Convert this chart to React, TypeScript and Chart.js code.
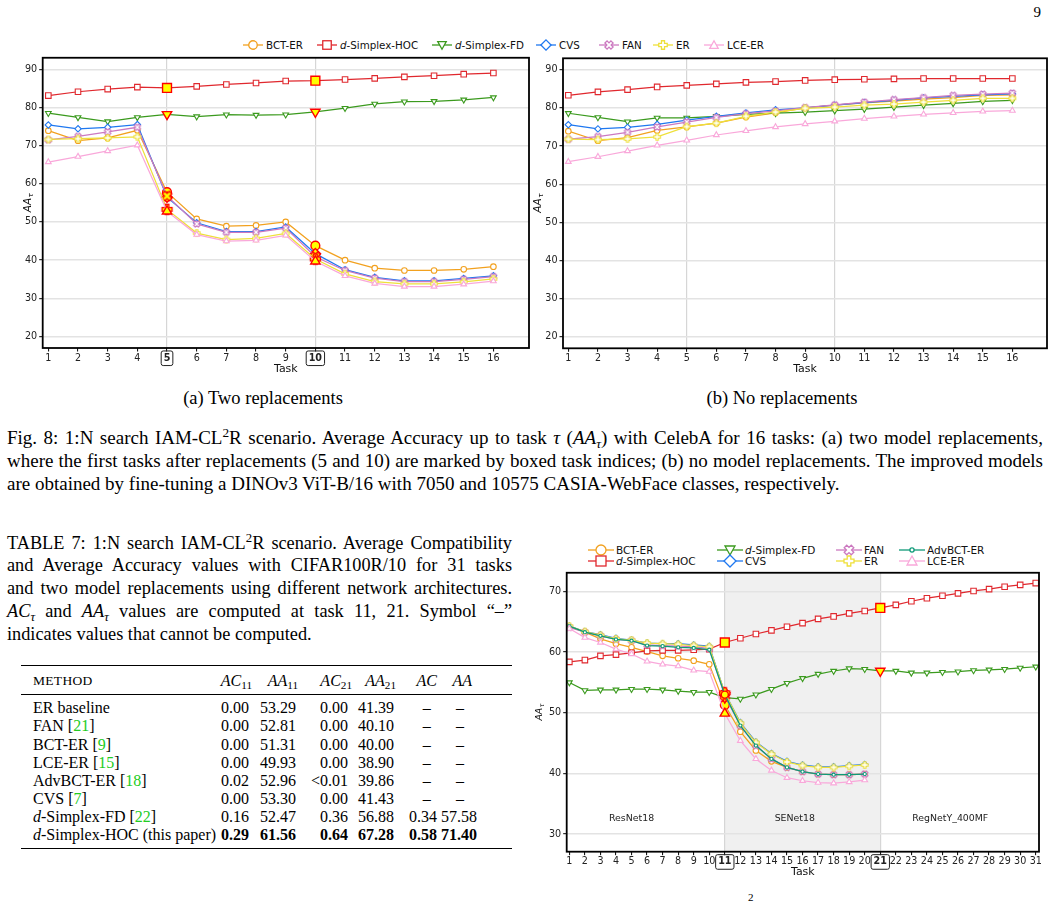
import React, { useEffect, useRef } from 'react';
import { Chart, registerables } from 'chart.js';

Chart.register(...registerables);

const SANS = "'DejaVu Sans', Verdana, sans-serif";
const SERIF = "'Liberation Serif', 'Times New Roman', Times, serif";

// ---------------- colours ----------------
const C_BCT = '#F2A11F';
const C_HOC = '#E0282E';
const C_FD = '#3B9A1E';
const C_CVS = '#1F78F0';
const C_FAN = '#CC79C0';
const C_ER = '#EEE03A';
const C_LCE = '#F9A8DA';
const C_ADV = '#0E9A78';

// ---------------- Fig. 8 (CelebA, 16 tasks) ----------------
const tasks16 = [1, 2, 3, 4, 5, 6, 7, 8, 9, 10, 11, 12, 13, 14, 15, 16];
const yTicks16 = [20, 30, 40, 50, 60, 70, 80, 90];
const replacementTasks16 = [5, 10];

// (a) two replacements
const twoRepBCT = [73.9, 71.3, 72.0, 74.0, 57.8, 50.8, 48.9, 49.1, 50.0, 43.8, 40.0, 37.9, 37.3, 37.3, 37.6, 38.3];
const twoRepHOC = [83.1, 84.1, 84.8, 85.3, 85.1, 85.5, 86.0, 86.4, 86.9, 87.0, 87.3, 87.6, 88.0, 88.3, 88.7, 89.0];
const twoRepFD = [78.5, 77.4, 76.3, 77.4, 78.2, 77.6, 78.1, 78.0, 78.1, 78.8, 79.8, 80.9, 81.5, 81.6, 82.0, 82.6];
const twoRepCVS = [75.4, 74.4, 74.8, 75.5, 56.5, 49.8, 47.5, 47.5, 48.7, 41.7, 37.5, 35.5, 34.6, 34.6, 35.2, 35.9];
const twoRepFAN = [71.5, 72.4, 73.6, 74.8, 56.8, 49.5, 47.3, 47.3, 48.4, 40.9, 37.3, 35.3, 34.4, 34.4, 35.0, 35.7];
const twoRepER = [71.6, 71.8, 72.0, 72.3, 53.3, 47.1, 45.4, 45.7, 47.0, 40.3, 36.4, 34.4, 33.8, 33.8, 34.3, 35.1];
const twoRepLCE = [65.7, 67.1, 68.6, 70.1, 52.8, 46.7, 45.0, 45.2, 46.5, 39.7, 35.9, 33.9, 33.1, 33.1, 33.7, 34.5];

// (b) no replacements
const noRepBCT = [73.9, 71.4, 72.2, 74.1, 75.0, 76.0, 77.6, 78.7, 80.0, 80.7, 81.3, 81.8, 82.3, 82.7, 83.3, 83.4];
const noRepHOC = [83.3, 84.2, 84.8, 85.5, 85.9, 86.3, 86.7, 86.9, 87.2, 87.4, 87.5, 87.6, 87.7, 87.7, 87.7, 87.7];
const noRepFD = [78.6, 77.5, 76.4, 77.4, 77.4, 77.8, 78.3, 78.6, 78.9, 79.3, 79.7, 80.2, 80.7, 81.2, 81.7, 82.0];
const noRepCVS = [75.6, 74.5, 74.9, 75.7, 76.8, 77.8, 78.7, 79.5, 80.0, 80.7, 81.4, 82.0, 82.6, 83.0, 83.4, 83.7];
const noRepFAN = [71.8, 72.5, 73.6, 75.0, 76.3, 77.5, 78.5, 79.2, 80.1, 80.8, 81.5, 82.2, 82.7, 83.3, 83.6, 83.9];
const noRepER = [71.8, 71.7, 71.9, 72.4, 75.1, 76.0, 77.8, 78.9, 79.9, 80.2, 80.7, 81.0, 81.5, 82.0, 82.5, 82.5];
const noRepLCE = [65.9, 67.2, 68.7, 70.2, 71.5, 72.9, 74.0, 75.0, 75.8, 76.5, 77.2, 77.8, 78.3, 78.7, 79.1, 79.3];

// ---------------- CIFAR100R/10, 31 tasks ----------------
const tasks31 = [1, 2, 3, 4, 5, 6, 7, 8, 9, 10, 11, 12, 13, 14, 15, 16, 17, 18, 19, 20, 21, 22, 23, 24, 25, 26, 27, 28, 29, 30, 31];
const yTicks31 = [30, 40, 50, 60, 70];
const replacementTasks31 = [11, 21];
const archPhaseNames = ['ResNet18', 'SENet18', 'RegNetY_400MF'];
const archPhaseCenters = [5, 15.5, 25.5];
const archPhaseLabelY = 32.6;

const archBCT = [64.2, 63.3, 62.2, 61.4, 60.8, 60.1, 59.4, 59.0, 58.6, 58.0, 51.3, 46.9, 43.8, 42.0, 41.0, 40.3, 39.9, 39.8, 39.8, 39.9];
const archHOC = [58.4, 58.7, 59.4, 59.6, 59.9, 60.2, 60.3, 60.3, 60.4, 60.5, 61.6, 62.3, 63.0, 63.6, 64.2, 64.8, 65.5, 65.9, 66.4, 66.8, 67.3, 67.8, 68.4, 68.9, 69.3, 69.7, 70.1, 70.4, 70.8, 71.1, 71.4];
const archFD = [55.0, 53.7, 53.8, 53.8, 53.9, 53.9, 53.8, 53.6, 53.4, 53.4, 52.5, 52.3, 53.0, 53.9, 54.9, 55.7, 56.4, 56.9, 57.3, 57.2, 56.9, 56.9, 56.6, 56.6, 56.7, 56.8, 57.0, 57.1, 57.2, 57.4, 57.6];
const archCVS = [64.3, 63.4, 62.9, 62.3, 62.0, 61.5, 61.4, 61.4, 61.2, 61.0, 53.3, 48.4, 45.2, 43.3, 42.0, 41.4, 41.1, 41.1, 41.3, 41.5];
const archFAN = [64.1, 63.3, 62.7, 62.1, 61.9, 61.2, 61.1, 61.0, 60.9, 60.6, 52.8, 47.9, 44.6, 42.4, 41.0, 40.3, 39.9, 39.8, 39.8, 39.9];
const archER = [64.3, 63.4, 62.8, 62.2, 62.0, 61.5, 61.4, 61.3, 61.1, 60.9, 53.3, 48.3, 45.1, 43.2, 41.9, 41.3, 41.0, 41.0, 41.2, 41.4];
const archADV = [64.3, 63.3, 62.7, 62.1, 61.9, 61.1, 61.0, 60.8, 60.7, 60.4, 53.0, 47.9, 44.6, 42.4, 41.0, 40.3, 39.9, 39.8, 39.8, 39.9];
const archLCE = [63.9, 62.4, 61.6, 60.5, 59.7, 58.5, 58.0, 57.7, 57.0, 56.8, 49.9, 45.4, 42.4, 40.5, 39.3, 38.8, 38.5, 38.4, 38.6, 38.9];

// ---------------- Table 7 ----------------
const tableMethods = ['ER baseline', 'FAN', 'BCT-ER', 'LCE-ER', 'AdvBCT-ER', 'CVS', 'd-Simplex-FD', 'd-Simplex-HOC'];
const tableRefs = ['', '21', '9', '15', '18', '7', '22', ''];
const tableAC11 = ['0.00', '0.00', '0.00', '0.00', '0.02', '0.00', '0.16', '0.29'];
const tableAA11 = ['53.29', '52.81', '51.31', '49.93', '52.96', '53.30', '52.47', '61.56'];
const tableAC21 = ['0.00', '0.00', '0.00', '0.00', '<0.01', '0.00', '0.36', '0.64'];
const tableAA21 = ['41.39', '40.10', '40.00', '38.90', '39.86', '41.43', '56.88', '67.28'];
const tableAC = ['–', '–', '–', '–', '–', '–', '0.34', '0.58'];
const tableAA = ['–', '–', '–', '–', '–', '–', '57.58', '71.40'];

// ---------------- series definitions ----------------
type Shape = 'circle' | 'square' | 'triDown' | 'triUp' | 'diamond' | 'x' | 'plus' | 'dot';
type Series = { name: string; values: number[]; color: string; shape: Shape };

const seriesTwoRep: Series[] = [
  { name: 'BCT-ER', values: twoRepBCT, color: C_BCT, shape: 'circle' },
  { name: 'd-Simplex-HOC', values: twoRepHOC, color: C_HOC, shape: 'square' },
  { name: 'd-Simplex-FD', values: twoRepFD, color: C_FD, shape: 'triDown' },
  { name: 'CVS', values: twoRepCVS, color: C_CVS, shape: 'diamond' },
  { name: 'FAN', values: twoRepFAN, color: C_FAN, shape: 'x' },
  { name: 'ER', values: twoRepER, color: C_ER, shape: 'plus' },
  { name: 'LCE-ER', values: twoRepLCE, color: C_LCE, shape: 'triUp' },
];
const seriesNoRep: Series[] = [
  { name: 'BCT-ER', values: noRepBCT, color: C_BCT, shape: 'circle' },
  { name: 'd-Simplex-HOC', values: noRepHOC, color: C_HOC, shape: 'square' },
  { name: 'd-Simplex-FD', values: noRepFD, color: C_FD, shape: 'triDown' },
  { name: 'CVS', values: noRepCVS, color: C_CVS, shape: 'diamond' },
  { name: 'FAN', values: noRepFAN, color: C_FAN, shape: 'x' },
  { name: 'ER', values: noRepER, color: C_ER, shape: 'plus' },
  { name: 'LCE-ER', values: noRepLCE, color: C_LCE, shape: 'triUp' },
];
const seriesArch: Series[] = [
  { name: 'BCT-ER', values: archBCT, color: C_BCT, shape: 'circle' },
  { name: 'd-Simplex-HOC', values: archHOC, color: C_HOC, shape: 'square' },
  { name: 'd-Simplex-FD', values: archFD, color: C_FD, shape: 'triDown' },
  { name: 'CVS', values: archCVS, color: C_CVS, shape: 'diamond' },
  { name: 'FAN', values: archFAN, color: C_FAN, shape: 'x' },
  { name: 'ER', values: archER, color: C_ER, shape: 'plus' },
  { name: 'AdvBCT-ER', values: archADV, color: C_ADV, shape: 'dot' },
  { name: 'LCE-ER', values: archLCE, color: C_LCE, shape: 'triUp' },
];

// ---------------- marker helpers ----------------
const HL_FILL = '#FFFF00';
const HL_EDGE = '#FF0000';
const R_NORMAL: Record<string, number> = { circle: 2.8, square: 3.9, triDown: 3.3, triUp: 3.3, diamond: 3.2, x: 4, plus: 4, dot: 1.6 };
const R_BIG: Record<string, number> = { circle: 4.4, square: 6.3, triDown: 5.4, triUp: 5.4, diamond: 5.2, x: 6, plus: 6, dot: 3.5 };

const crossCache: Record<string, HTMLCanvasElement> = {};
function crossCanvas(shape: string, size: number, fill: string, stroke: string, lw: number) {
  const key = [shape, size, fill, stroke, lw].join('|');
  if (crossCache[key]) return crossCache[key];
  const dim = Math.ceil(size * 1.15 + lw * 2 + 2);
  const c = document.createElement('canvas');
  c.width = dim;
  c.height = dim;
  const g = c.getContext('2d') as CanvasRenderingContext2D;
  g.translate(dim / 2, dim / 2);
  if (shape === 'x') g.rotate(Math.PI / 4);
  const a = size / 2;
  const t = size * 0.18;
  const pts = [[-t, -a], [t, -a], [t, -t], [a, -t], [a, t], [t, t], [t, a], [-t, a], [-t, t], [-a, t], [-a, -t], [-t, -t]];
  g.beginPath();
  pts.forEach(([px, py], i) => (i ? g.lineTo(px, py) : g.moveTo(px, py)));
  g.closePath();
  g.fillStyle = fill;
  g.fill();
  g.lineWidth = lw;
  g.strokeStyle = stroke;
  g.stroke();
  crossCache[key] = c;
  return c;
}

function pointStyleFor(shape: Shape, hl: boolean, color: string): any {
  switch (shape) {
    case 'square':
      return 'rect';
    case 'triDown':
    case 'triUp':
      return 'triangle';
    case 'diamond':
      return 'rectRot';
    case 'x':
    case 'plus':
      return crossCanvas(shape, hl ? 10 : 6.6, hl ? HL_FILL : '#FFFFFF', hl ? HL_EDGE : color, hl ? 1.3 : 1.1);
    default:
      return 'circle';
  }
}

// ---------------- plugins ----------------
function roundRectPath(ctx: CanvasRenderingContext2D, x: number, y: number, w: number, h: number, r: number) {
  ctx.beginPath();
  ctx.moveTo(x + r, y);
  ctx.lineTo(x + w - r, y);
  ctx.arcTo(x + w, y, x + w, y + r, r);
  ctx.lineTo(x + w, y + h - r);
  ctx.arcTo(x + w, y + h, x + w - r, y + h, r);
  ctx.lineTo(x + r, y + h);
  ctx.arcTo(x, y + h, x, y + h - r, r);
  ctx.lineTo(x, y + r);
  ctx.arcTo(x, y, x + r, y, r);
  ctx.closePath();
}

const framePlugin = {
  id: 'frame',
  afterDatasetsDraw(chart: any) {
    const { ctx, chartArea: a } = chart;
    ctx.save();
    ctx.strokeStyle = '#000';
    ctx.lineWidth = 1.8;
    ctx.strokeRect(a.left, a.top, a.right - a.left, a.bottom - a.top);
    ctx.restore();
  },
};

function boxedTicksPlugin(values: number[], fontSize: number) {
  return {
    id: 'boxedTicks',
    afterDraw(chart: any) {
      const xs = chart.scales.x;
      const ctx = chart.ctx;
      const tl = xs.options.grid.tickLength;
      const pad = xs.options.ticks.padding;
      const cy = xs.top + tl + pad + (fontSize * 1.2) / 2;
      ctx.save();
      ctx.font = `bold ${fontSize}px ${SANS}`;
      values.forEach((v) => {
        const cx = xs.getPixelForValue(v);
        const w = ctx.measureText(String(v)).width + 5;
        const h = fontSize + 5;
        roundRectPath(ctx, cx - w / 2, cy - h / 2, w, h, 2);
        ctx.strokeStyle = '#222';
        ctx.lineWidth = 1;
        ctx.stroke();
      });
      ctx.restore();
    },
  };
}

function yLabelPlugin(x: number, size: number) {
  return {
    id: 'yLabel',
    afterDraw(chart: any) {
      const { ctx, chartArea } = chart;
      const cy = (chartArea.top + chartArea.bottom) / 2;
      ctx.save();
      ctx.translate(x, cy);
      ctx.rotate(-Math.PI / 2);
      ctx.fillStyle = '#111';
      ctx.textBaseline = 'middle';
      ctx.font = `italic ${size}px ${SANS}`;
      const w1 = ctx.measureText('AA').width;
      ctx.font = `italic ${size * 0.7}px ${SANS}`;
      const w2 = ctx.measureText('τ').width;
      const sx = -(w1 + w2) / 2;
      ctx.font = `italic ${size}px ${SANS}`;
      ctx.fillText('AA', sx, 0);
      ctx.font = `italic ${size * 0.7}px ${SANS}`;
      ctx.fillText('τ', sx + w1 + 0.5, size * 0.3);
      ctx.restore();
    },
  };
}

function shadePlugin(from: number, to: number, color: string) {
  return {
    id: 'shade',
    beforeDraw(chart: any) {
      const { ctx, chartArea: a, scales } = chart;
      const x0 = scales.x.getPixelForValue(from);
      const x1 = scales.x.getPixelForValue(to);
      ctx.save();
      ctx.fillStyle = color;
      ctx.fillRect(x0, a.top, x1 - x0, a.bottom - a.top);
      ctx.restore();
    },
  };
}

function phaseLabelPlugin(names: string[], centers: number[], yVal: number, size: number) {
  return {
    id: 'phaseLabels',
    beforeDatasetsDraw(chart: any) {
      const { ctx, scales } = chart;
      ctx.save();
      ctx.font = `${size}px ${SANS}`;
      ctx.fillStyle = '#222';
      ctx.textAlign = 'center';
      ctx.textBaseline = 'middle';
      names.forEach((n, i) => {
        ctx.fillText(n, scales.x.getPixelForValue(centers[i]), scales.y.getPixelForValue(yVal));
      });
      ctx.restore();
    },
  };
}

// ---------------- chart config ----------------
type Panel = {
  tasks: number[];
  series: Series[];
  highlight: number[];
  boxed: number[];
  vlines: number[];
  yTicks: number[];
  yMin: number;
  yMax: number;
  xMin: number;
  xMax: number;
  yAxisW: number;
  xAxisH: number;
  pad: { left: number; right: number; top: number; bottom: number };
  titlePad: number;
  yLabelX: number;
  yLabelSize: number;
  tickSize: number;
  shade?: [number, number];
  phases?: boolean;
};

function buildConfig(p: Panel): any {
  const isHl = (ctx: any) => ctx && typeof ctx.dataIndex === 'number' && p.highlight.includes(p.tasks[ctx.dataIndex]);
  const datasets = p.series.map((s, si) => ({
    label: s.name,
    data: s.values.map((v, i) => ({ x: p.tasks[i], y: v })),
    order: -si,
    borderColor: s.color,
    backgroundColor: '#FFFFFF',
    borderWidth: 1.25,
    fill: false,
    tension: 0,
    pointStyle: (ctx: any) => pointStyleFor(s.shape, isHl(ctx), s.color),
    pointRotation: s.shape === 'triDown' ? 180 : 0,
    pointRadius: (ctx: any) => (isHl(ctx) ? R_BIG[s.shape] : R_NORMAL[s.shape]),
    pointBackgroundColor: (ctx: any) => (isHl(ctx) ? HL_FILL : '#FFFFFF'),
    pointBorderColor: (ctx: any) => (isHl(ctx) ? HL_EDGE : s.color),
    pointBorderWidth: (ctx: any) => (isHl(ctx) ? 1.4 : 1.1),
  }));
  const plugins: any[] = [];
  if (p.shade) plugins.push(shadePlugin(p.shade[0], p.shade[1], '#F0F0F0'));
  if (p.phases) plugins.push(phaseLabelPlugin(archPhaseNames, archPhaseCenters, archPhaseLabelY, 9.4));
  plugins.push(framePlugin, yLabelPlugin(p.yLabelX, p.yLabelSize));
  if (p.boxed.length) plugins.push(boxedTicksPlugin(p.boxed, p.tickSize));
  return {
    type: 'line',
    data: { datasets },
    plugins,
    options: {
      responsive: false,
      animation: false,
      devicePixelRatio: 1,
      events: [],
      layout: { padding: p.pad },
      plugins: { legend: { display: false }, tooltip: { enabled: false } },
      scales: {
        x: {
          type: 'linear',
          min: p.xMin,
          max: p.xMax,
          afterBuildTicks: (sc: any) => {
            sc.ticks = p.tasks.map((v) => ({ value: v }));
          },
          afterFit: (sc: any) => {
            sc.height = p.xAxisH;
          },
          ticks: {
            autoSkip: false,
            maxRotation: 0,
            minRotation: 0,
            padding: 1,
            color: '#222',
            callback: (v: any) => String(v),
            font: (c: any) => ({
              family: SANS,
              size: p.tickSize,
              weight: c.tick && p.boxed.includes(c.tick.value) ? 'bold' : 'normal',
            }),
          },
          grid: {
            color: (c: any) => (c.tick && p.vlines.includes(c.tick.value) ? '#D6D6D6' : 'rgba(0,0,0,0)'),
            lineWidth: 1.2,
            tickColor: '#000',
            tickLength: 3.5,
            tickWidth: 1,
          },
          border: { display: false },
          title: {
            display: true,
            text: 'Task',
            color: '#111',
            font: { family: SANS, size: 11 },
            padding: { top: 0, bottom: p.titlePad },
          },
        },
        y: {
          type: 'linear',
          min: p.yMin,
          max: p.yMax,
          afterBuildTicks: (sc: any) => {
            sc.ticks = p.yTicks.map((v) => ({ value: v }));
          },
          afterFit: (sc: any) => {
            sc.width = p.yAxisW;
          },
          ticks: {
            padding: 2,
            color: '#222',
            callback: (v: any) => String(v),
            font: { family: SANS, size: p.tickSize },
          },
          grid: {
            color: '#E3E3E3',
            lineWidth: 1.4,
            tickColor: '#000',
            tickLength: 3.5,
            tickWidth: 1,
          },
          border: { display: false },
        },
      },
    },
  };
}

function ChartCanvas({ left, top, width, height, panel }: { left: number; top: number; width: number; height: number; panel: Panel }) {
  const ref = useRef<HTMLCanvasElement>(null);
  useEffect(() => {
    const chart = new Chart(ref.current as HTMLCanvasElement, buildConfig(panel));
    return () => chart.destroy();
  }, []);
  return <canvas ref={ref} width={width} height={height} style={{ position: 'absolute', left, top, width, height }} />;
}

// ---------------- legend (HTML) ----------------
function MarkerIcon({ shape, color, w, h, size }: { shape: Shape; color: string; w: number; h: number; size: number }) {
  const cx = w / 2;
  const cy = h / 2;
  const r = size / 2;
  const common = { fill: '#FFFFFF', stroke: color, strokeWidth: 1.3 };
  let el: any = null;
  if (shape === 'circle') el = <circle cx={cx} cy={cy} r={r} {...common} />;
  else if (shape === 'dot') el = <circle cx={cx} cy={cy} r={r * 0.42} {...common} />;
  else if (shape === 'square') el = <rect x={cx - r} y={cy - r} width={2 * r} height={2 * r} {...common} />;
  else if (shape === 'diamond') {
    const d = r * 1.2;
    el = <polygon points={`${cx},${cy - d} ${cx + d},${cy} ${cx},${cy + d} ${cx - d},${cy}`} {...common} />;
  } else if (shape === 'triDown')
    el = <polygon points={`${cx - r},${cy - r * 0.8} ${cx + r},${cy - r * 0.8} ${cx},${cy + r}`} {...common} />;
  else if (shape === 'triUp')
    el = <polygon points={`${cx - r},${cy + r * 0.8} ${cx + r},${cy + r * 0.8} ${cx},${cy - r}`} {...common} />;
  else {
    const a = r;
    const t = size * 0.18;
    const pts = [[-t, -a], [t, -a], [t, -t], [a, -t], [a, t], [t, t], [t, a], [-t, a], [-t, t], [-a, t], [-a, -t], [-t, -t]]
      .map(([px, py]) => `${cx + px},${cy + py}`)
      .join(' ');
    el = <polygon points={pts} {...common} transform={shape === 'x' ? `rotate(45 ${cx} ${cy})` : undefined} />;
  }
  return (
    <svg width={w} height={h} style={{ display: 'block', overflow: 'visible' }}>
      <line x1={0} y1={cy} x2={w} y2={cy} stroke={color} strokeWidth={1.3} />
      {el}
    </svg>
  );
}

function seriesName(name: string) {
  if (name.startsWith('d-')) {
    return (
      <>
        <i>d</i>
        {name.slice(1)}
      </>
    );
  }
  return name;
}

function LegendItem({ s, x, y, lineLen, mSize, fontSize, gap }: { s: Series; x: number; y: number; lineLen: number; mSize: number; fontSize: number; gap: number }) {
  const h = 16;
  return (
    <div
      style={{
        position: 'absolute',
        left: x,
        top: y - h / 2,
        height: h,
        display: 'flex',
        alignItems: 'center',
        whiteSpace: 'nowrap',
        fontFamily: SANS,
        fontSize,
        color: '#111',
      }}
    >
      <MarkerIcon shape={s.shape} color={s.color} w={lineLen} h={h} size={mSize} />
      <span style={{ marginLeft: gap, lineHeight: `${h}px` }}>{seriesName(s.name)}</span>
    </div>
  );
}

const topLegendX = [243, 317, 432, 536, 599, 653, 704];
const archLegendCols = [588, 717, 836, 899];
const archLegendRows = [549.5, 560.5];

// ---------------- text helpers ----------------
const supStyle: any = { fontSize: '0.7em', verticalAlign: '0.55em', lineHeight: 0 };
const subStyle: any = { fontSize: '0.7em', verticalAlign: '-0.3em', lineHeight: 0 };
const Sup2 = () => <span style={supStyle}>2</span>;
const AAtau = () => (
  <>
    <i>AA</i>
    <span style={subStyle}>
      <i>τ</i>
    </span>
  </>
);
const ACtau = () => (
  <>
    <i>AC</i>
    <span style={subStyle}>
      <i>τ</i>
    </span>
  </>
);

function TextLine({ left, top, width, size, justify, children }: any) {
  return (
    <div
      style={{
        position: 'absolute',
        left,
        top,
        width,
        fontFamily: SERIF,
        fontSize: size,
        lineHeight: '23px',
        textAlign: justify ? 'justify' : 'left',
        textAlignLast: justify ? 'justify' : 'auto',
        color: '#000',
      }}
    >
      {children}
    </div>
  );
}

const CAP = 19;
const TCAP = 18.3;
const TAB = 16;

const panelA: Panel = {
  tasks: tasks16,
  series: seriesTwoRep,
  highlight: replacementTasks16,
  boxed: replacementTasks16,
  vlines: replacementTasks16,
  yTicks: yTicks16,
  yMin: 17,
  yMax: 93,
  xMin: 0.81,
  xMax: 17.2,
  yAxisW: 42.7,
  xAxisH: 32,
  pad: { left: 0, right: 6, top: 7.7, bottom: 0 },
  titlePad: 4,
  yLabelX: 28,
  yLabelSize: 10.5,
  tickSize: 9.6,
};
const panelB: Panel = {
  tasks: tasks16,
  series: seriesNoRep,
  highlight: [],
  boxed: [],
  vlines: replacementTasks16,
  yTicks: yTicks16,
  yMin: 17,
  yMax: 93,
  xMin: 0.82,
  xMax: 17.17,
  yAxisW: 33,
  xAxisH: 31.7,
  pad: { left: 0, right: 10, top: 8.3, bottom: 0 },
  titlePad: 4,
  yLabelX: 8,
  yLabelSize: 10.5,
  tickSize: 9.6,
};
const panelC: Panel = {
  tasks: tasks31,
  series: seriesArch,
  highlight: replacementTasks31,
  boxed: replacementTasks31,
  vlines: replacementTasks31,
  yTicks: yTicks31,
  yMin: 27.1,
  yMax: 73.1,
  xMin: 0.83,
  xMax: 31.21,
  yAxisW: 36.7,
  xAxisH: 28.3,
  pad: { left: 0, right: 18, top: 4.3, bottom: 0 },
  titlePad: 1,
  yLabelX: 10,
  yLabelSize: 9.2,
  tickSize: 9.6,
  shade: [11, 21],
  phases: true,
};

const tableCols = [
  { values: tableAC11, right: 249 },
  { values: tableAA11, right: 296 },
  { values: tableAC21, right: 348 },
  { values: tableAA21, right: 394 },
  { values: tableAC, right: 437, dash: 426.7 },
  { values: tableAA, right: 477, dash: 460 },
];

export default function App() {
  const rowY = (i: number) => 708.3 + i * 18.1;
  return (
    <div style={{ position: 'absolute', left: 0, top: 0, width: 1057, height: 901, overflow: 'hidden', background: '#FFFFFF' }}>
      {/* page number */}
      <div style={{ position: 'absolute', left: 1010, top: 2, width: 31, textAlign: 'right', fontFamily: SERIF, fontSize: 15, lineHeight: '20px' }}>9</div>

      {/* shared legend of Fig. 8 */}
      {seriesTwoRep.map((s, i) => (
        <LegendItem key={s.name} s={s} x={topLegendX[i]} y={45} lineLen={20} mSize={8.5} fontSize={10.3} gap={3} />
      ))}

      <ChartCanvas left={0} top={50} width={535} height={330} panel={panelA} />
      <ChartCanvas left={530} top={50} width={527} height={330} panel={panelB} />

      <div style={{ position: 'absolute', left: 163, top: 387, width: 200, textAlign: 'center', fontFamily: SERIF, fontSize: 18.5, lineHeight: '23px' }}>(a) Two replacements</div>
      <div style={{ position: 'absolute', left: 682, top: 387, width: 200, textAlign: 'center', fontFamily: SERIF, fontSize: 18.5, lineHeight: '23px' }}>(b) No replacements</div>

      <TextLine left={7} top={425.5} width={1036} size={CAP} justify>
        Fig. 8: 1:N search IAM-CL<Sup2 />R scenario. Average Accuracy up to task <i>τ</i> (<AAtau />) with CelebA for 16 tasks: (a) two model replacements,
      </TextLine>
      <TextLine left={7} top={448.5} width={1036} size={CAP} justify>
        where the first tasks after replacements (5 and 10) are marked by boxed task indices; (b) no model replacements. The improved models
      </TextLine>
      <TextLine left={7} top={471.5} width={1036} size={CAP}>
        are obtained by fine-tuning a DINOv3 ViT-B/16 with 7050 and 10575 CASIA-WebFace classes, respectively.
      </TextLine>

      {/* Table caption */}
      <TextLine left={7} top={531.5} width={505} size={TCAP} justify>
        TABLE 7: 1:N search IAM-CL<Sup2 />R scenario. Average Compatibility
      </TextLine>
      <TextLine left={7} top={554.2} width={505} size={TCAP} justify>
        and Average Accuracy values with CIFAR100R/10 for 31 tasks
      </TextLine>
      <TextLine left={7} top={577} width={505} size={TCAP} justify>
        and two model replacements using different network architectures.
      </TextLine>
      <TextLine left={7} top={599.7} width={505} size={TCAP} justify>
        <ACtau /> and <AAtau /> values are computed at task 11, 21. Symbol “–”
      </TextLine>
      <TextLine left={7} top={622.5} width={505} size={TCAP}>
        indicates values that cannot be computed.
      </TextLine>

      {/* Table */}
      <div style={{ position: 'absolute', left: 21, top: 664.5, width: 491, height: 1.4, background: '#000' }} />
      <div style={{ position: 'absolute', left: 21, top: 693.5, width: 491, height: 0.9, background: '#000' }} />
      <div style={{ position: 'absolute', left: 21, top: 847.5, width: 491, height: 1.4, background: '#000' }} />
      <div style={{ position: 'absolute', left: 33, top: 672, fontFamily: SERIF, fontSize: 13.5, lineHeight: '18px', letterSpacing: 0.3 }}>METHOD</div>
      {[
        { t: 'AC', s: '11', r: 252 },
        { t: 'AA', s: '11', r: 298 },
        { t: 'AC', s: '21', r: 352 },
        { t: 'AA', s: '21', r: 396 },
        { t: 'AC', s: '', r: 437 },
        { t: 'AA', s: '', r: 472 },
      ].map((h, i) => (
        <div key={i} style={{ position: 'absolute', right: 1057 - h.r, top: 672, fontFamily: SERIF, fontSize: TAB, lineHeight: '18px', whiteSpace: 'nowrap' }}>
          <i>{h.t}</i>
          {h.s ? <span style={subStyle}>{h.s}</span> : null}
        </div>
      ))}
      {tableMethods.map((m, i) => (
        <div key={m} style={{ position: 'absolute', left: 33, top: rowY(i) - 9, fontFamily: SERIF, fontSize: TAB, lineHeight: '18px', whiteSpace: 'nowrap' }}>
          {seriesName(m)}
          {tableRefs[i] ? (
            <>
              {' ['}
              <span style={{ color: '#22CC22' }}>{tableRefs[i]}</span>]
            </>
          ) : null}
          {i === tableMethods.length - 1 ? ' (this paper)' : null}
        </div>
      ))}
      {tableCols.map((col, ci) =>
        col.values.map((v, i) => {
          const bold = i === tableMethods.length - 1;
          const base: any = { position: 'absolute', top: rowY(i) - 9, fontFamily: SERIF, fontSize: TAB, lineHeight: '18px', whiteSpace: 'nowrap', fontWeight: bold ? 'bold' : 'normal' };
          if (v === '–' && col.dash) {
            return (
              <div key={`${ci}-${i}`} style={{ ...base, left: col.dash - 15, width: 30, textAlign: 'center' }}>
                {v}
              </div>
            );
          }
          return (
            <div key={`${ci}-${i}`} style={{ ...base, right: 1057 - col.right }}>
              {v}
            </div>
          );
        })
      )}

      {/* Bottom-right chart */}
      {seriesArch.map((s, i) => (
        <LegendItem
          key={s.name}
          s={s}
          x={archLegendCols[Math.floor(i / 2)]}
          y={archLegendRows[i % 2]}
          lineLen={26}
          mSize={10}
          fontSize={10.5}
          gap={2}
        />
      ))}
      <ChartCanvas left={530} top={565} width={527} height={315} panel={panelC} />

      <div style={{ position: 'absolute', left: 748, top: 891, fontFamily: SERIF, fontSize: 11, lineHeight: '12px' }}>2</div>
    </div>
  );
}
